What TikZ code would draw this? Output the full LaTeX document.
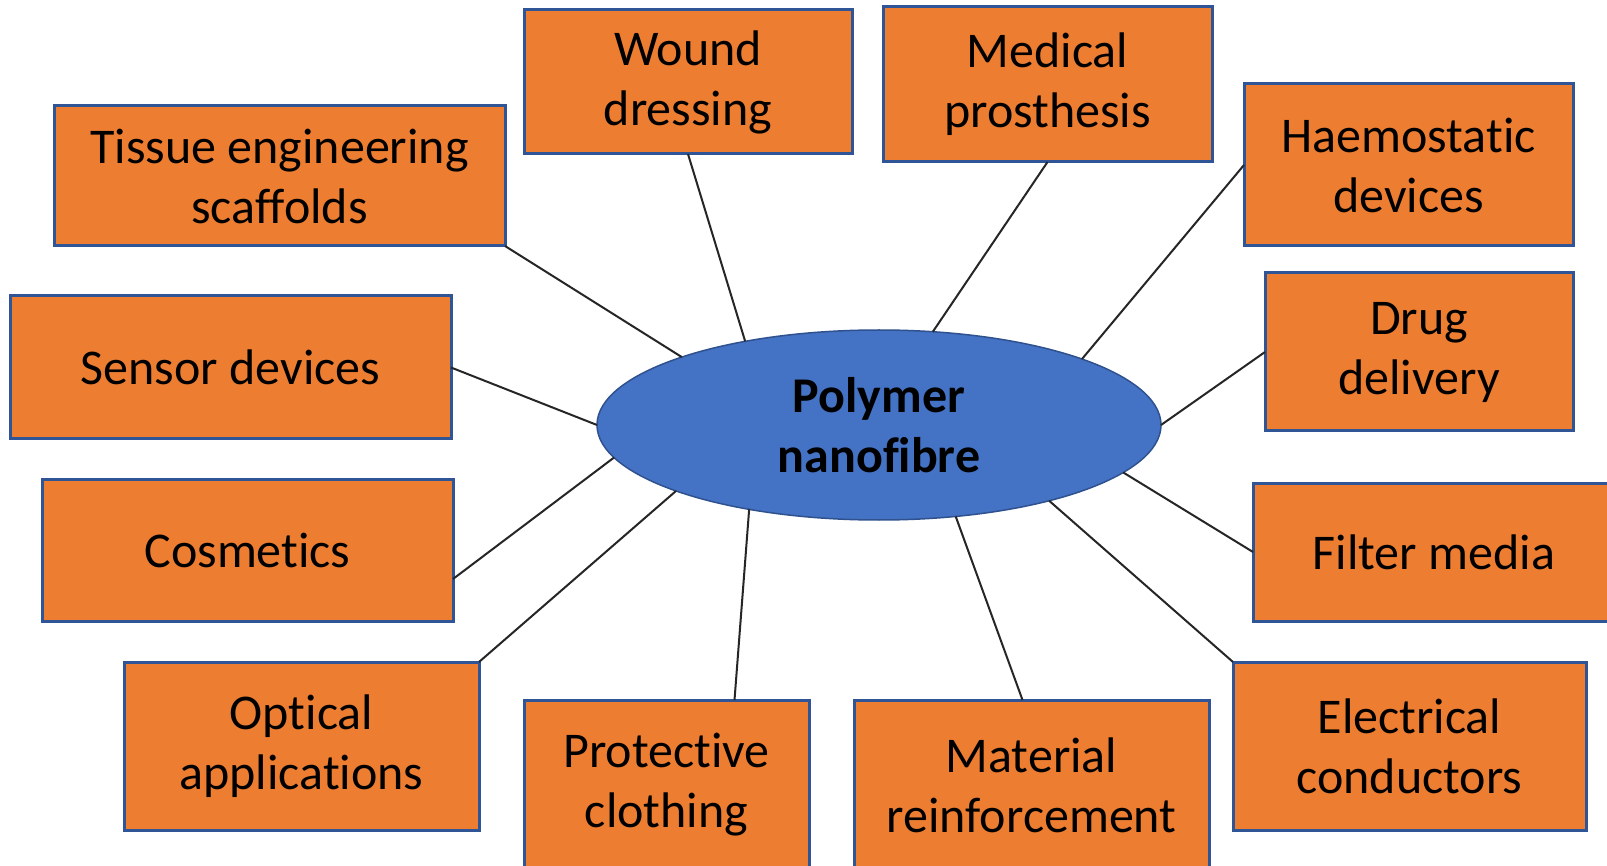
\documentclass[tikz,border=0pt]{standalone}
\usepackage{fontspec}
\setmainfont[Ligatures={NoCommon,NoContextual,NoRequired},Contextuals=NoAlternate]{Carlito}
\usetikzlibrary{shapes.geometric}
\definecolor{boxorange}{HTML}{ED7D31}
\definecolor{boxblue}{HTML}{2F5597}
\definecolor{ellblue}{HTML}{4472C4}
\definecolor{ellborder}{HTML}{2F528F}
\begin{document}
\begin{tikzpicture}[x=1pt,y=-1pt,
  appbox/.style={draw=boxblue, line width=3pt, fill=boxorange, inner sep=0pt, outer sep=0pt,
    align=center, font=\fontsize{50}{60}\selectfont, text=black},
  link/.style={draw=black!85, line width=2pt}]
\clip (0,0) rectangle (1607,866);
\fill[white] (0,0) rectangle (1607,866);

\node[appbox, minimum width=451pt, minimum height=140pt] (tissue) at (279.5,176) {Tissue engineering\\scaffolds};
\node[appbox, minimum width=328pt, minimum height=144pt] (wound) at (688,82) {Wound\\dressing};
\node[appbox, minimum width=329pt, minimum height=155pt] (med) at (1047.5,84.5) {Medical\\prosthesis};
\node[appbox, minimum width=329pt, minimum height=162pt] (haemo) at (1408.5,165) {Haemostatic\\devices};
\node[appbox, minimum width=441pt, minimum height=143pt] (sensor) at (230.5,367.5) {Sensor devices};
\node[appbox, minimum width=308pt, minimum height=158pt] (drug) at (1419,352) {Drug\\delivery};
\node[appbox, minimum width=411pt, minimum height=142pt] (cosm) at (247.5,550) {Cosmetics};
\node[appbox, minimum width=362pt, minimum height=138pt] (filter) at (1434,552) {Filter media};
\node[appbox, minimum width=355pt, minimum height=168pt] (optical) at (301.5,746) {Optical\\applications};
\node[appbox, minimum width=285pt, minimum height=170pt] (prot) at (666.5,785) {Protective\\clothing};
\node[appbox, minimum width=355pt, minimum height=170pt] (mat) at (1031.5,785) {Material\\reinforcement};
\node[appbox, minimum width=353pt, minimum height=168pt] (elec) at (1409.5,746) {Electrical\\conductors};

\node[ellipse, draw=ellborder, line width=1.5pt, fill=ellblue, minimum width=564pt, minimum height=190pt,
  inner sep=0pt, outer sep=0pt, align=center, font=\bfseries\fontsize{50}{60}\selectfont, text=black]
  (ell) at (879,425) {Polymer\\nanofibre};

\draw[link] (tissue.south east) -- (ell.161);
\draw[link] (wound.south) -- (ell.148.5);
\draw[link] (med.south) -- (ell.60);
\draw[link] (haemo.west) -- (ell.18.7);
\draw[link] (sensor.east) -- (ell.180);
\draw[link] (drug.west) -- (ell.0);
\draw[link] ([yshift=-29pt]cosm.east) -- (ell.187);
\draw[link] (filter.west) -- (ell.-11.3);
\draw[link] (optical.north east) -- (ell.198.6);
\draw[link] ([xshift=68pt]prot.north) -- (ell.213.7);
\draw[link] ([xshift=-9pt]mat.north) -- (ell.-50.7);
\draw[link] (elec.north west) -- (ell.-24.3);
\end{tikzpicture}
\end{document}
